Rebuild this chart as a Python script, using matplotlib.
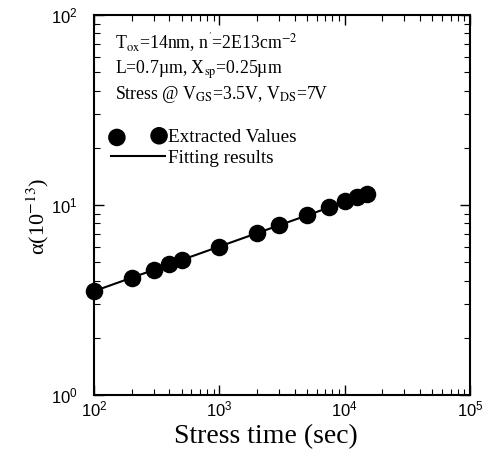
import numpy as np
import matplotlib
matplotlib.use('Agg')
import matplotlib.pyplot as plt

# dados
stress_time = [100, 200, 300, 400, 500, 1000, 2000, 3000, 5000, 7500, 10000, 12500, 15000]
alpha_vals = [3.54, 4.14, 4.55, 4.87, 5.13, 6.04, 7.12, 7.80, 8.86, 9.72, 10.5, 10.98, 11.4]

# reta de ajuste (extremos)
fit_time = [100, 15000]
fit_alpha = [3.52, 11.4]

plt.rcParams['font.family'] = ['Liberation Serif', 'DejaVu Serif']
plt.rcParams['mathtext.fontset'] = 'stix'

fig = plt.figure(figsize=(4.84, 4.5), dpi=100)
ax = fig.add_axes([0.194, 0.122, 0.777, 0.845])

ax.plot(fit_time, fit_alpha, color='black', lw=1.5, label='Fitting results', zorder=2)
ax.scatter(stress_time, alpha_vals, s=135, color='black', label='Extracted Values', zorder=3,
           clip_on=False)

ax.set_xscale('log')
ax.set_yscale('log')
ax.set_xlim(1e2, 1e5)
ax.set_ylim(1, 100)

ax.tick_params(which='both', direction='in', top=True, right=True)
ax.tick_params(which='major', length=7, width=1)
ax.tick_params(which='minor', length=4, width=0.8)
for lab in ax.get_xticklabels() + ax.get_yticklabels():
    lab.set_fontfamily('Liberation Sans')
    lab.set_fontsize(12)
ax.tick_params(axis='x', pad=3)
ax.tick_params(axis='y', pad=12)
for s in ax.spines.values():
    s.set_linewidth(1.5)

ax.set_xlabel('Stress time (sec)', fontsize=20)
ax.xaxis.set_label_coords(0.457, -0.075)
ax.set_ylabel('α(10$^{-13}$)', fontsize=16)
ax.yaxis.set_label_coords(-0.115, 0.471)

fs = 12.8
ax.text(0.055, 0.911, "T$_{\\rm ox}$=14nm, n$^{'}$=2E13cm$^{-2}$", transform=ax.transAxes, fontsize=fs)
ax.text(0.055, 0.845, 'L=0.7µm, X$_{\\rm sp}$=0.25µm', transform=ax.transAxes, fontsize=fs)
ax.text(0.055, 0.778, 'Stress @ V$_{\\rm GS}$=3.5V, V$_{\\rm DS}$=7V', transform=ax.transAxes, fontsize=fs)

h, l = ax.get_legend_handles_labels()
ax.legend([h[1], h[0]], [l[1], l[0]], loc='upper left', bbox_to_anchor=(0.0, 0.745),
          frameon=False, scatterpoints=2, handlelength=2.8, handletextpad=0.15,
          fontsize=13.8, labelspacing=0.15)

plt.savefig('out.png', dpi=100)
